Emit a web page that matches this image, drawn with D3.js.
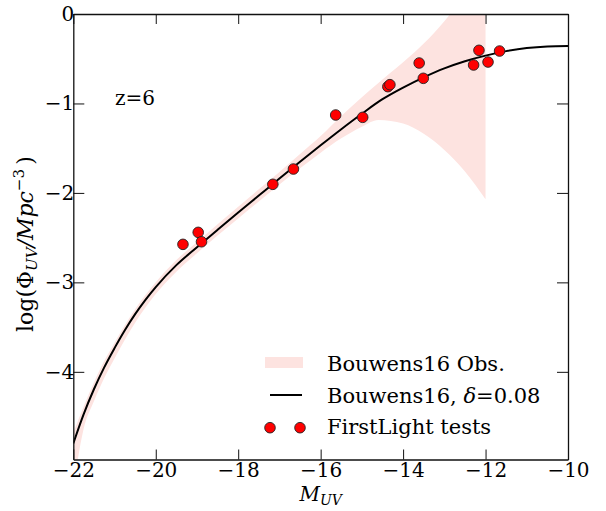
<!DOCTYPE html>
<html lang="en">
<head>
  <meta charset="UTF-8">
  <title>UV luminosity function z=6</title>
  <script src="https://d3js.org/d3.v7.min.js"></script>
  <style>
    body { margin: 0; background: #fff; }
    svg { font-family: "DejaVu Serif", serif; }
    .axis text { font-size: 20px; fill: #000; font-family: "DejaVu Serif", serif; }
    .axis path, .axis line { stroke: #111; }
    .axis line { stroke-width: 1; }
    .axis path { stroke-width: 1.3; }
  </style>
</head>
<body>
  <svg width="606" height="511"></svg>
  <script>
    // Bouwens16 fit (delta = 0.08)
    const fitM   = [-22, -21.75, -21.5, -21.25, -21, -20.75, -20.5, -20.25, -20, -19.5, -19, -18.5, -18,
                    -17.5, -17, -16.5, -16, -15.5, -15, -14.5, -14, -13.5, -13, -12.5, -12, -11.5, -11, -10.5, -10];
    const fitPhi = [-4.80, -4.475, -4.195, -3.95, -3.735, -3.535, -3.355, -3.195, -3.0525, -2.8075, -2.6075, -2.4125, -2.22,
                    -2.03, -1.84, -1.6525, -1.4675, -1.2875, -1.115, -0.9525, -0.8225, -0.7075, -0.6075, -0.5275, -0.465,
                    -0.415, -0.38, -0.3625, -0.3575];

    // Bouwens16 observational range
    const obsM  = [-22, -21.75, -21.5, -21.25, -21, -20.75, -20.5, -20, -19.5, -19, -18.5, -18, -17.5, -17, -16.5, -16,
                   -15.5, -15, -14.6, -14, -13.5, -13, -12.5, -12];
    const obsLo = [-5.30, -4.64, -4.33, -4.07, -3.85, -3.64, -3.45, -3.13, -2.88, -2.675, -2.475, -2.285, -2.095, -1.905, -1.725, -1.55,
                   -1.39, -1.26, -1.185, -1.225, -1.34, -1.52, -1.76, -2.07];
    const obsHi = [-4.68, -4.39, -4.12, -3.88, -3.675, -3.48, -3.30, -3.00, -2.75, -2.55, -2.35, -2.155, -1.96, -1.765, -1.565, -1.365,
                   -1.14, -0.93, -0.77, -0.54, -0.33, -0.08, 0.22, 0.55];

    // FirstLight tests
    const flM   = [-19.34, -18.97, -18.89, -17.16, -16.66, -15.635, -14.98, -14.37, -14.32, -13.61, -13.51, -12.29, -12.16, -11.94, -11.66];
    const flPhi = [-2.575, -2.441, -2.546, -1.904, -1.733, -1.129, -1.155, -0.812, -0.79, -0.548, -0.719, -0.570, -0.406, -0.537, -0.414];

    const xTicks = [-22, -20, -18, -16, -14, -12, -10];
    const yTicks = [0, -1, -2, -3, -4];

    const svg = d3.select("svg");
    const mLeft = 73.3, mRight = 568, mTop = 14, mBottom = 459.5;

    const x = d3.scaleLinear().domain([-22, -10]).range([mLeft, mRight]);
    const y = d3.scaleLinear().domain([-4.98, 0]).range([mBottom, mTop]);

    svg.append("defs").append("clipPath").attr("id", "plot")
       .append("rect")
       .attr("x", mLeft).attr("y", mTop)
       .attr("width", mRight - mLeft).attr("height", mBottom - mTop);

    const plot = svg.append("g").attr("clip-path", "url(#plot)");

    const band = obsM.map((m, i) => ({ m: m, lo: obsLo[i], hi: obsHi[i] }));
    plot.append("path")
        .datum(band)
        .attr("fill", "#fde3e0")
        .attr("d", d3.area()
          .x(d => x(d.m))
          .y0(d => y(d.lo))
          .y1(d => y(d.hi))
          .curve(d3.curveMonotoneX));

    const fit = fitM.map((m, i) => ({ m: m, v: fitPhi[i] }));
    plot.append("path")
        .datum(fit)
        .attr("fill", "none")
        .attr("stroke", "#000")
        .attr("stroke-width", 2)
        .attr("d", d3.line().x(d => x(d.m)).y(d => y(d.v)).curve(d3.curveMonotoneX));

    plot.selectAll(".pt")
        .data(flM.map((m, i) => ({ m: m, v: flPhi[i] })))
        .enter().append("circle")
        .attr("class", "pt")
        .attr("cx", d => x(d.m))
        .attr("cy", d => y(d.v))
        .attr("r", 5.3)
        .attr("fill", "#ff0000")
        .attr("stroke", "#222")
        .attr("stroke-width", 0.9);

    // axes, ticks pointing inward on every side
    svg.append("g").attr("class", "axis")
       .attr("transform", `translate(0,${mBottom})`)
       .call(d3.axisBottom(x).tickValues(xTicks).tickSize(-10).tickSizeOuter(0).tickPadding(3));
    svg.append("g").attr("class", "axis")
       .attr("transform", `translate(0,${mTop})`)
       .call(d3.axisTop(x).tickValues(xTicks).tickSize(-10).tickSizeOuter(0).tickFormat(""));
    svg.append("g").attr("class", "axis")
       .attr("transform", `translate(${mLeft},0)`)
       .call(d3.axisLeft(y).tickValues(yTicks).tickSize(-11).tickSizeOuter(0).tickPadding(-1).tickFormat(d3.format("d")));
    svg.append("g").attr("class", "axis")
       .attr("transform", `translate(${mRight},0)`)
       .call(d3.axisRight(y).tickValues(yTicks).tickSize(-11).tickSizeOuter(0).tickFormat(""));

    // z label
    svg.append("text").attr("x", 115).attr("y", 105)
       .attr("font-size", 20).text("z=6");

    // x label
    const xl = svg.append("text").attr("x", (mLeft + mRight) / 2).attr("y", 501)
       .attr("text-anchor", "middle").attr("font-size", 20).attr("font-style", "italic");
    xl.append("tspan").text("M");
    xl.append("tspan").attr("font-size", 14).attr("dy", 4).text("UV");

    // y label
    const yl = svg.append("text")
       .attr("transform", "translate(33,244) rotate(-90)")
       .attr("text-anchor", "middle").attr("font-size", 22);
    yl.append("tspan").text("log(Φ");
    yl.append("tspan").attr("font-size", 15).attr("font-style", "italic").attr("dy", 4).text("UV");
    yl.append("tspan").attr("font-style", "italic").attr("dy", -4).text("/Mpc");
    yl.append("tspan").attr("font-size", 15).attr("dy", -9).text("−3");
    yl.append("tspan").attr("dy", 9).text("\u2009)");

    // legend
    const lg = svg.append("g").attr("font-size", 21);
    lg.append("rect").attr("x", 265).attr("y", 357).attr("width", 38).attr("height", 11).attr("fill", "#fde3e0");
    lg.append("line").attr("x1", 270).attr("x2", 302).attr("y1", 395).attr("y2", 395)
      .attr("stroke", "#000").attr("stroke-width", 2);
    lg.selectAll(".lgpt").data([270, 300]).enter().append("circle")
      .attr("cx", d => d).attr("cy", 427.7).attr("r", 5.3)
      .attr("fill", "#ff0000").attr("stroke", "#222").attr("stroke-width", 0.9);
    lg.append("text").attr("x", 327).attr("y", 370.5).text("Bouwens16 Obs.");
    const l2 = lg.append("text").attr("x", 327).attr("y", 402.5);
    l2.append("tspan").text("Bouwens16, ");
    l2.append("tspan").attr("font-style", "italic").text("δ");
    l2.append("tspan").text("=0.08");
    lg.append("text").attr("x", 327).attr("y", 434).text("FirstLight tests");
  </script>
</body>
</html>
